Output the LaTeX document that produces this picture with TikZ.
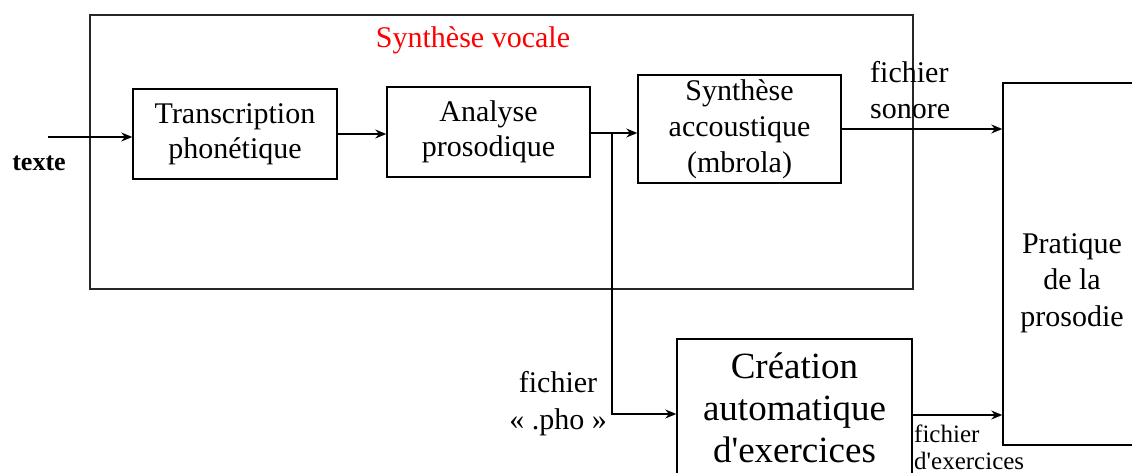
\documentclass[tikz,border=0pt]{standalone}
\usepackage{fontspec}
\setmainfont{Liberation Serif}
\usetikzlibrary{arrows.meta}

\begin{document}
\begin{tikzpicture}[x=1pt, y=-1pt, >={Stealth[length=11pt,width=9pt]},
  bloc/.style={draw, line width=1.4pt, inner sep=0pt, align=center,
    font=\fontsize{30}{35}\selectfont},
  etiq/.style={inner sep=0pt, font=\fontsize{30}{37}\selectfont}]
  \clip (0,0) rectangle (1132,473);
  \useasboundingbox (0,0) rectangle (1132,473);

  % grand cadre
  \node[draw, line width=1.8pt, black!85, minimum width=823pt, minimum height=274pt] (vocale) at (501.5,152) {};
  \node[etiq, text=red] (titre) at (473,40) {Synthèse vocale};

  \node[bloc, minimum width=204pt, minimum height=90pt] (trans) at (235,134) {Transcription\\phonétique};
  \node[bloc, minimum width=203pt, minimum height=90pt] (analyse) at (488.5,132) {Analyse\\prosodique};
  \node[bloc, font=\fontsize{30}{36}\selectfont, minimum width=203pt, minimum height=108pt] (synth) at (739.5,129) {Synthèse\\accoustique\\(mbrola)};
  \node[bloc, font=\fontsize{37}{42}\selectfont, minimum width=235pt, minimum height=137pt] (creation) at (794.5,407.5) {Création\\automatique\\d\textquotesingle exercices};
  \node[bloc, minimum width=138pt, minimum height=362pt] (pratique) at (1072,264) {};
  \node[etiq, align=center, font=\fontsize{30}{36.5}\selectfont] (pratiquetxt) at (1072,283) {Pratique\\de la\\prosodie};

  % fleches
  \coordinate (entree) at (48,137);
  \draw[line width=1.3pt, ->] (entree) -- (entree -| trans.west);
  \node[etiq, font=\bfseries\fontsize{26}{30}\selectfont] (texte) at (39,163) {texte};

  \draw[line width=1.3pt, ->] (trans.east) -- (trans.east -| analyse.west);
  \coordinate (branche) at (612,133);
  \draw[line width=1.3pt, ->] (analyse.east |- branche) -- (branche -| synth.west);
  \coordinate (pho) at (0,414);
  \draw[line width=1.3pt, ->] (branche) |- (pho -| creation.west);
  \draw[line width=1.3pt, ->] (synth.east) -- (synth.east -| pratique.west);
  \coordinate (exo) at (0,415);
  \draw[line width=1.3pt, ->] (exo -| creation.east) -- (exo -| pratique.west);

  \node[etiq, anchor=west, align=left, font=\fontsize{30}{36}\selectfont] (sonore) at (870,90) {fichier\\sonore};
  \node[etiq, align=center] (phofile) at (558,404) {fichier\\« .pho »};
  \node[etiq, anchor=west, align=left, font=\fontsize{25}{27}\selectfont] (exofile) at (914,447) {fichier\\d\textquotesingle exercices};
\end{tikzpicture}
\end{document}
